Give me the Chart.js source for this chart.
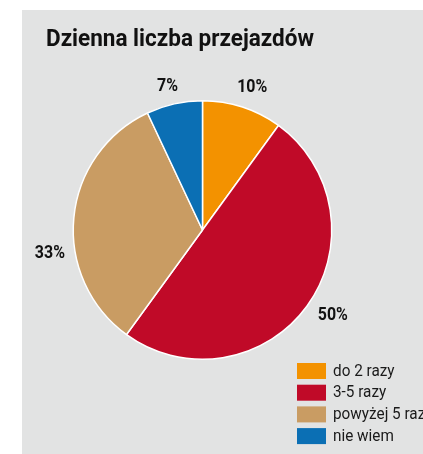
<!DOCTYPE html>
<html lang="pl">
<head>
  <meta charset="UTF-8">
  <title>Dzienna liczba przejazdów</title>
  <style>
    body {
      margin: 0;
      padding: 0;
      background: #fff;
    }

    .wrap {
      width: 423px;
      height: 454px;
    }
  </style>
</head>
<body>
  <div class="wrap">
    <canvas id="pie" width="423" height="454"></canvas>
  </div>

  <script src="https://cdn.jsdelivr.net/npm/chart.js"></script>
  <script>
    const title = 'Dzienna liczba przejazdów';
    const categories = ['do 2 razy', '3-5 razy', 'powyżej 5 razy', 'nie wiem'];
    const shares = [10, 50, 33, 7];
    const colors = ['#f39200', '#c00a28', '#c99c63', '#0b6fb4'];

    // the original uses a condensed face, so text is squeezed sideways
    function squeezed(c, text, x, y, sx) {
      c.save();
      c.translate(x, y);
      c.scale(sx, 1);
      c.fillText(text, 0, 0);
      c.restore();
    }

    // nudges for the percentage labels (px), in slice order
    const labelShift = [[3, 1], [8, -4], [-2, 37], [-2, 4]];

    const decor = {
      id: 'decor',
      beforeDraw(chart) {
        const c = chart.ctx;
        c.save();
        c.fillStyle = '#e2e3e3';
        c.fillRect(22, 10, chart.width - 22, chart.height - 10);
        c.fillStyle = '#111';
        c.font = 'bold 24px Roboto, sans-serif';
        c.textBaseline = 'alphabetic';
        const w = c.measureText(title).width;
        squeezed(c, title, 46, 46, 268 / w);
        c.restore();
      },
      afterDraw(chart) {
        const c = chart.ctx;
        const arcs = chart.getDatasetMeta(0).data;
        c.save();
        c.fillStyle = '#111';
        c.font = 'bold 19px Roboto, sans-serif';
        c.textAlign = 'center';
        c.textBaseline = 'middle';
        arcs.forEach((arc, i) => {
          const mid = (arc.startAngle + arc.endAngle) / 2;
          const r = arc.outerRadius + 22;
          const x = arc.x + Math.cos(mid) * r + labelShift[i][0];
          const y = arc.y + Math.sin(mid) * r + labelShift[i][1];
          squeezed(c, shares[i] + '%', x, y, 0.84);
        });

        // legend
        c.textAlign = 'left';
        c.font = '17px Roboto, sans-serif';
        categories.forEach((name, i) => {
          const y = 363 + i * 21.7;
          c.fillStyle = colors[i];
          c.fillRect(297, y, 29, 16);
          c.fillStyle = '#1a1a1a';
          squeezed(c, name, 333, y + 8.5, 0.9);
        });
        c.restore();
      }
    };

    new Chart(document.getElementById('pie'), {
      type: 'pie',
      data: {
        labels: categories,
        datasets: [{
          data: shares,
          backgroundColor: colors,
          borderColor: '#fff',
          borderWidth: 1.5
        }]
      },
      options: {
        responsive: false,
        animation: false,
        layout: {
          padding: { left: 72, right: 90, top: 100, bottom: 94 }
        },
        plugins: {
          legend: { display: false },
          tooltip: { enabled: false }
        }
      },
      plugins: [decor]
    });
  </script>
</body>
</html>
